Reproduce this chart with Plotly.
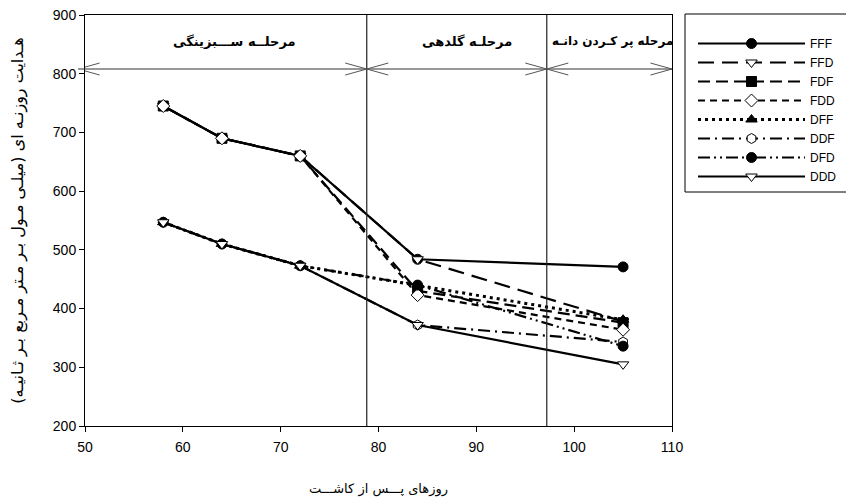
import plotly.graph_objects as go

days = [58, 64, 72, 84, 105]
series_names = ["FFF", "FFD", "FDF", "FDD", "DFF", "DDF", "DFD", "DDD"]
FFF = [745, 690, 660, 484, 471]
FFD = [745, 690, 660, 484, 378]
FDF = [745, 690, 660, 430, 376]
FDD = [745, 690, 660, 423, 364]
DFF = [547, 510, 473, 440, 381]
DDF = [547, 510, 473, 372, 343]
DFD = [547, 510, 473, 440, 336]
DDD = [547, 510, 473, 372, 305]
values = [FFF, FFD, FDF, FDD, DFF, DDF, DFD, DDD]

stage_bounds = [78.8, 97.2]
stage_labels = ["مرحلــه ســـبزینگی", "مرحلـه گلدهی", "مرحله پر کـردن دانـه"]
stage_label_x = [65.3, 89.0, 103.9]
stage_label_size = [13, 13, 12]
arrow_level = 808

styles = {
    "FFF": dict(dash="solid", symbol="circle", fill="black"),
    "FFD": dict(dash="16px,8px", symbol="triangle-down", fill="white"),
    "FDF": dict(dash="12px,6px", symbol="square", fill="black"),
    "FDD": dict(dash="7px,5px", symbol="diamond", fill="white"),
    "DFF": dict(dash="3px,4px", symbol="triangle-up", fill="black"),
    "DDF": dict(dash="12px,5px,2px,5px", symbol="hexagon", fill="white"),
    "DFD": dict(dash="12px,4px,2px,4px,2px,4px", symbol="circle", fill="black"),
    "DDD": dict(dash="solid", symbol="triangle-down", fill="white"),
}

fig = go.Figure()
for name, vals in zip(series_names, values):
    st = styles[name]
    fig.add_trace(go.Scatter(
        x=days, y=vals, name=name, mode="lines+markers",
        line=dict(color="black", width=2.2 if name != "DFF" else 3, dash=st["dash"]),
        marker=dict(symbol=st["symbol"], size=10, color=st["fill"],
                    line=dict(color="black", width=1)),
    ))

# plot area is 587 x 411 px
PW, PH = 587, 411
ay = (arrow_level - 200) / (900 - 200)
dy = 6 / PH
dxd = 2.2

shapes = []
for b in stage_bounds:
    shapes.append(dict(type="line", xref="x", yref="paper", x0=b, x1=b, y0=0, y1=1,
                       line=dict(color="#222", width=1.2)))
shapes.append(dict(type="line", xref="paper", yref="paper", x0=-0.012, x1=1, y0=ay, y1=ay,
                   line=dict(color="#333", width=1.2)))
ends = [(50 - 0.7, +1)] + [(b, -1) for b in stage_bounds] + [(b, +1) for b in stage_bounds] + [(110, -1)]
for xe, d in ends:
    for s in (+1, -1):
        shapes.append(dict(type="line", xref="x", yref="paper",
                           x0=xe, x1=xe + d * dxd, y0=ay, y1=ay + s * dy,
                           line=dict(color="#555", width=1)))
# legend frame
shapes.append(dict(type="rect", xref="paper", yref="paper",
                   x0=1 + 13 / PW, x1=1 + 180 / PW, y0=1 - 177 / PH, y1=1 + 1 / PH,
                   line=dict(color="black", width=1), fillcolor="rgba(0,0,0,0)"))
fig.update_layout(shapes=shapes)

for txt, xx, fs in zip(stage_labels, stage_label_x, stage_label_size):
    fig.add_annotation(x=xx, xref="x", y=1 - 17 / PH, yref="paper", text="<b>" + txt + "</b>",
                       showarrow=False, font=dict(family="DejaVu Sans", size=fs, color="black"))

fig.update_layout(
    width=846, height=493,
    margin=dict(l=77, r=846 - 77 - PW, t=7, b=493 - 7 - PH, autoexpand=False),
    plot_bgcolor="white", paper_bgcolor="white",
    font=dict(family="Liberation Sans, Arial", size=14, color="black"),
    showlegend=True,
    legend=dict(x=1 + 21 / PW, y=1 - 14 / PH, xanchor="left", yanchor="top",
                borderwidth=0, bgcolor="rgba(0,0,0,0)",
                font=dict(family="Liberation Sans, Arial", size=12),
                itemwidth=107, tracegroupgap=0),
    xaxis=dict(range=[50, 110], tickvals=[50, 60, 70, 80, 90, 100, 110], automargin=False,
               showline=True, linecolor="black", linewidth=1, mirror=True,
               ticks="outside", ticklen=5, tickcolor="black", showgrid=False, zeroline=False,
               ticklabelstandoff=3, ticklabeloverflow="allow",
               title=dict(text="روزهای پـــس از کاشـــت", font=dict(family="DejaVu Sans", size=13), standoff=30)),
    yaxis=dict(range=[200, 900], tickvals=[200, 300, 400, 500, 600, 700, 800, 900], automargin=False,
               showline=True, linecolor="black", linewidth=1, mirror=True,
               ticks="outside", ticklen=5, tickcolor="black", showgrid=False, zeroline=False,
               ticklabeloverflow="allow",
               title=dict(text="هـدایت روزنـه ای (میلـی مـول بـر مـتر مـربع بـر ثـانیـه)",
                          font=dict(family="DejaVu Sans", size=16), standoff=34)),
)

fig.write_html("out.html")
